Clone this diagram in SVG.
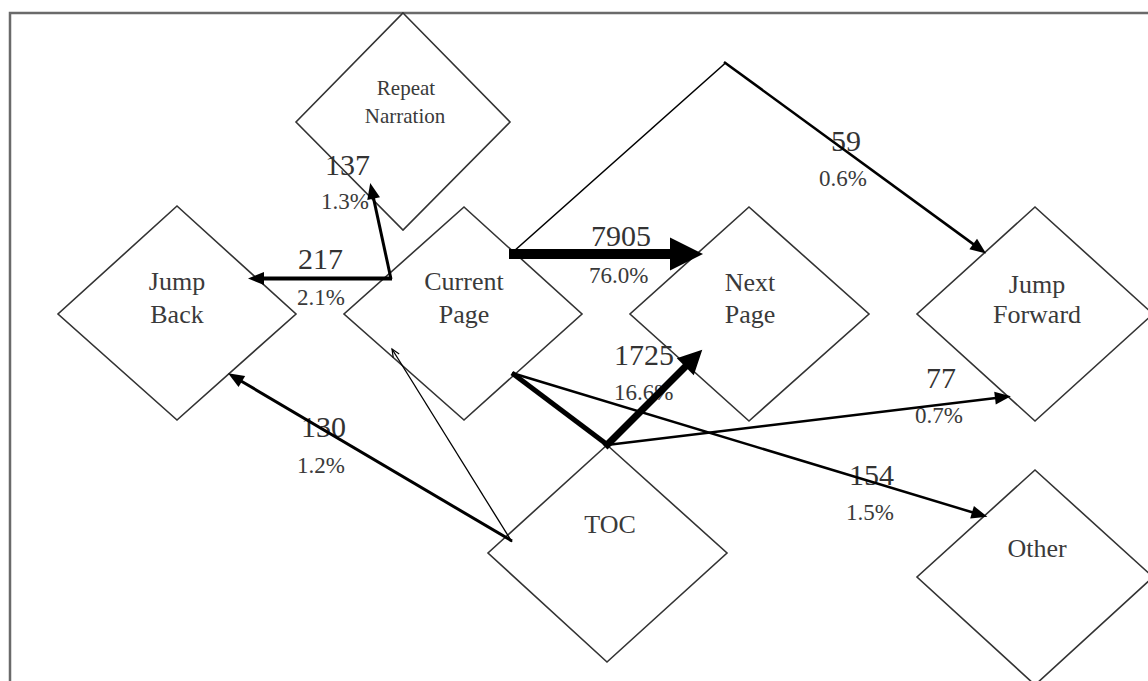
<svg xmlns="http://www.w3.org/2000/svg" width="1148" height="681" viewBox="0 0 1148 681">
  <style>
    .node { fill: #ffffff; stroke: #333333; stroke-width: 1.6; }
    .nlabel { font-family: "Liberation Serif", "Times New Roman", serif; font-size: 26px; fill: #3a3a3a; text-anchor: middle; }
    .small { font-size: 21px; }
    .count { font-family: "Liberation Serif", "Times New Roman", serif; font-size: 30px; fill: #333333; }
    .pct { font-family: "Liberation Serif", "Times New Roman", serif; font-size: 23px; fill: #3a3a3a; }
    .edge { fill: none; stroke: #000000; stroke-linejoin: miter; stroke-linecap: butt; }
  </style>
  <defs>
    <marker id="head-s" markerUnits="userSpaceOnUse" markerWidth="20" markerHeight="16" refX="1" refY="0" orient="auto" overflow="visible">
      <path d="M0,-6.5 L16,0 L0,6.5 z" fill="#000"/>
    </marker>
    <marker id="head-m" markerUnits="userSpaceOnUse" markerWidth="30" markerHeight="26" refX="1" refY="0" orient="auto" overflow="visible">
      <path d="M0,-12 L24,0 L0,12 z" fill="#000"/>
    </marker>
    <marker id="head-l" markerUnits="userSpaceOnUse" markerWidth="40" markerHeight="36" refX="1" refY="0" orient="auto" overflow="visible">
      <path d="M0,-16.5 L33,0 L0,16.5 z" fill="#000"/>
    </marker>
    <marker id="head-tick" markerUnits="userSpaceOnUse" markerWidth="10" markerHeight="10" refX="0" refY="0" orient="auto" overflow="visible">
      <path d="M-8,-3.5 L0,0 L-8,3.5" fill="none" stroke="#000" stroke-width="1.2"/>
    </marker>
  </defs>

  <!-- outer frame -->
  <rect x="10" y="13" width="1160" height="700" fill="none" stroke="#6a6a6a" stroke-width="2.5"/>

  <!-- nodes -->
  <g id="node-repeat-narration">
    <polygon class="node" points="403,13 510,122 403,230 296,122"/>
    <text class="nlabel small" x="406" y="95">Repeat</text>
    <text class="nlabel small" x="405" y="123">Narration</text>
  </g>
  <g id="node-jump-back">
    <polygon class="node" points="177,206 296,314 177,420 58,314"/>
    <text class="nlabel" x="177" y="290">Jump</text>
    <text class="nlabel" x="177" y="323">Back</text>
  </g>
  <g id="node-current-page">
    <polygon class="node" points="464,207 582,314 464,420 344,314"/>
    <text class="nlabel" x="464" y="290">Current</text>
    <text class="nlabel" x="464" y="323">Page</text>
  </g>
  <g id="node-next-page">
    <polygon class="node" points="749,207 869,314 749,421 630,314"/>
    <text class="nlabel" x="750" y="291">Next</text>
    <text class="nlabel" x="750" y="323">Page</text>
  </g>
  <g id="node-jump-forward">
    <polygon class="node" points="1035,207 1153,314 1035,421 917,314"/>
    <text class="nlabel" x="1037" y="293">Jump</text>
    <text class="nlabel" x="1037" y="323">Forward</text>
  </g>
  <g id="node-toc">
    <polygon class="node" points="607,445 727,553 607,662 488,553"/>
    <text class="nlabel" x="610" y="533">TOC</text>
  </g>
  <g id="node-other">
    <polygon class="node" points="1035,470 1153,577 1035,685 917,577"/>
    <text class="nlabel" x="1037" y="557">Other</text>
  </g>

  <!-- transition counts and shares -->
  <g id="edge-labels">
    <text class="count" x="325" y="175">137</text>
    <text class="pct" x="321" y="209">1.3%</text>
    <text class="count" x="298" y="269">217</text>
    <text class="pct" x="297" y="305">2.1%</text>
    <text class="count" x="591" y="246">7905</text>
    <text class="pct" x="589" y="283">76.0%</text>
    <text class="count" x="614" y="365">1725</text>
    <text class="pct" x="614" y="400">16.6%</text>
    <text class="count" x="831" y="151">59</text>
    <text class="pct" x="819" y="186">0.6%</text>
    <text class="count" x="926" y="388">77</text>
    <text class="pct" x="915" y="423">0.7%</text>
    <text class="count" x="849" y="485">154</text>
    <text class="pct" x="846" y="520">1.5%</text>
    <text class="count" x="301" y="437">130</text>
    <text class="pct" x="297" y="473">1.2%</text>
  </g>

  <!-- connectors -->
  <g id="connectors">
    <!-- Current Page -> Next Page -->
    <line class="edge" x1="509" y1="254" x2="671" y2="254" stroke-width="10" marker-end="url(#head-l)"/>
    <!-- Current Page -> TOC corner -> Next Page -->
    <g id="edge-1725">
      <line class="edge" x1="512" y1="373" x2="609" y2="446" stroke-width="5"/>
      <line class="edge" x1="605" y1="447" x2="686" y2="366" stroke-width="7" marker-end="url(#head-m)"/>
    </g>
    <!-- TOC corner -> Jump Forward -->
    <line class="edge" x1="607" y1="445" x2="996" y2="398" stroke-width="2.5" marker-end="url(#head-s)"/>
    <!-- Current Page -> Other -->
    <line class="edge" x1="512" y1="373" x2="973" y2="512.5" stroke-width="2.5" marker-end="url(#head-s)"/>
    <!-- Current Page -> over the top -> Jump Forward -->
    <g id="edge-59">
      <line class="edge" x1="513" y1="252" x2="726" y2="62.5" stroke-width="1.6"/>
      <line class="edge" x1="724" y1="62" x2="974" y2="244.6" stroke-width="2.6" marker-end="url(#head-s)"/>
    </g>
    <!-- Current Page -> Jump Back -->
    <line class="edge" x1="392" y1="278.5" x2="263" y2="278.5" stroke-width="4" marker-end="url(#head-s)"/>
    <!-- Current Page -> Repeat Narration -->
    <line class="edge" x1="391" y1="279" x2="373.4" y2="197.6" stroke-width="3" marker-end="url(#head-s)"/>
    <!-- TOC corner -> Jump Back -->
    <line class="edge" x1="512" y1="541" x2="241" y2="381" stroke-width="3" marker-end="url(#head-s)"/>
    <!-- thin stroke from TOC corner into Current Page -->
    <line class="edge" x1="512" y1="542" x2="392" y2="349" stroke-width="1.3" marker-end="url(#head-tick)"/>
  </g>
</svg>
